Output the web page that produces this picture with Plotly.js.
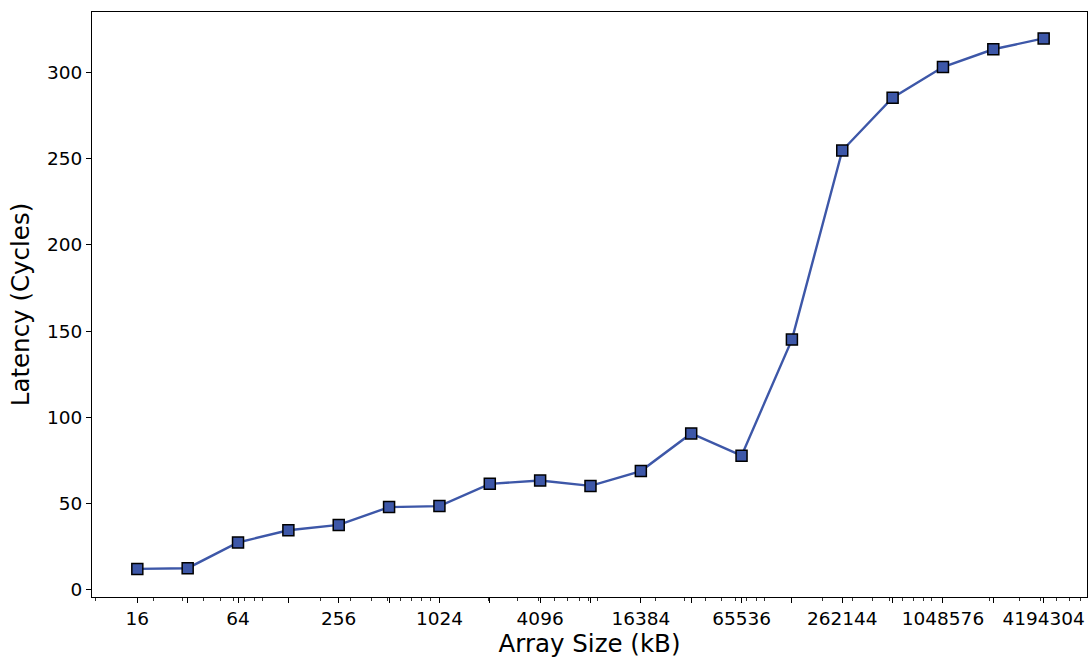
<!DOCTYPE html>
<html>
<head>
<meta charset="utf-8">
<script src="https://cdn.plot.ly/plotly-3.0.1.min.js"></script>
<style>
html,body{margin:0;padding:0;background:#fff;}
#chart{width:1090px;height:658px;}
</style>
</head>
<body>
<div id="chart"></div>
<script>
// Array sizes in kB (powers of two)
const arraySizes = [16, 32, 64, 128, 256, 512, 1024, 2048, 4096, 8192, 16384, 32768, 65536, 131072, 262144, 524288, 1048576, 2097152, 4194304];
// Measured latency in cycles
const latencyCycles = [12.2, 12.6, 27.5, 34.6, 37.7, 48.0, 48.6, 61.5, 63.4, 60.3, 68.9, 90.7, 77.8, 145.1, 254.7, 285.3, 303.1, 313.4, 319.7];

// Major ticks at every power of two, labels on every other one
const majorTickVals = [16, 32, 64, 128, 256, 512, 1024, 2048, 4096, 8192, 16384, 32768, 65536, 131072, 262144, 524288, 1048576, 2097152, 4194304];
const majorTickText = ["16", "", "64", "", "256", "", "1024", "", "4096", "", "16384", "", "65536", "", "262144", "", "1048576", "", "4194304"];
// Minor ticks: base-10 log subdivisions (2..9 of each decade)
const minorDigits = [2, 3, 4, 5, 6, 7, 8, 9];
const minorDecades = [1, 10, 100, 1000, 10000, 100000, 1000000];
const minorTickVals = [];
minorDecades.forEach(d => minorDigits.forEach(m => minorTickVals.push(m * d)));

const yTickVals = [0, 50, 100, 150, 200, 250, 300];

const trace = {
  x: arraySizes,
  y: latencyCycles,
  type: 'scatter',
  mode: 'lines+markers',
  line: {color: '#3d57a8', width: 2.4},
  marker: {symbol: 'square', size: 11, color: '#3d57a8', line: {color: '#000000', width: 1.5}},
  hoverinfo: 'x+y'
};

const fontFam = 'DejaVu Sans, sans-serif';

const layout = {
  width: 1090,
  height: 658,
  margin: {l: 92, r: 3, t: 12, b: 61},
  paper_bgcolor: '#ffffff',
  plot_bgcolor: '#ffffff',
  showlegend: false,
  font: {family: fontFam, color: '#000000'},
  xaxis: {
    type: 'log',
    range: [0.9332, 6.8817],
    tickmode: 'array',
    tickvals: majorTickVals,
    ticktext: majorTickText,
    ticks: 'outside',
    ticklen: 5,
    tickwidth: 1,
    tickcolor: '#000',
    tickfont: {family: fontFam, size: 18.5, color: '#000'},
    showgrid: false,
    zeroline: false,
    showline: true,
    linecolor: '#000',
    linewidth: 1,
    mirror: true,
    minor: {tickmode: 'array', tickvals: minorTickVals, ticks: 'outside', ticklen: 3, tickwidth: 0.8, tickcolor: '#000', showgrid: false},
    title: {text: 'Array Size (kB)', font: {family: fontFam, size: 24.5, color: '#000'}, standoff: 4}
  },
  yaxis: {
    range: [-4.1, 335.0],
    tickmode: 'array',
    tickvals: yTickVals,
    ticks: 'outside',
    ticklen: 5,
    tickwidth: 1,
    tickcolor: '#000',
    tickfont: {family: fontFam, size: 18.5, color: '#000'},
    showgrid: false,
    zeroline: false,
    showline: true,
    linecolor: '#000',
    linewidth: 1,
    mirror: true,
    title: {text: 'Latency (Cycles)', font: {family: fontFam, size: 24.5, color: '#000'}, standoff: 10}
  }
};

Plotly.newPlot('chart', [trace], layout, {displayModeBar: false, staticPlot: true});
</script>
</body>
</html>
